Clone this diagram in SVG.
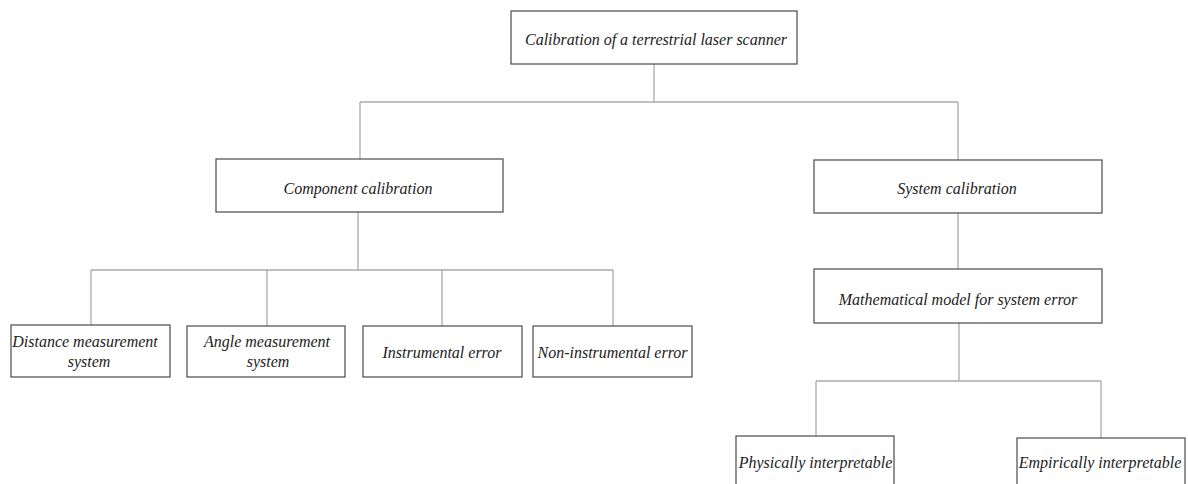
<svg xmlns="http://www.w3.org/2000/svg" width="1188" height="484" viewBox="0 0 1188 484">
<style>
.box{fill:#fff;stroke:#4a4a4a;stroke-width:1.2}
.lbl{font-family:"Liberation Serif","Times New Roman",serif;font-style:italic;font-size:16px;fill:#222;text-anchor:middle}
.con{fill:none;stroke:#ababab;stroke-width:1.3}
</style>
<rect width="1188" height="484" fill="#fff"/>
<g id="connectors">
<path class="con" d="M654 64V102M360 102H958M360 102V159M958 102V160"/>
<path class="con" d="M358 212V270M91 270H613M91 270V325M267 270V326M442 270V326M613 270V326"/>
<path class="con" d="M958 213V269M959 323V381M816 381H1101M816 381V436M1101 381V438"/>
</g>
<g id="n-root"><rect class="box" x="511" y="11" width="286" height="53"/><text class="lbl" x="656" y="45">Calibration of a terrestrial laser scanner</text></g>
<g id="n-component"><rect class="box" x="216" y="159" width="287" height="53"/><text class="lbl" x="358" y="194">Component calibration</text></g>
<g id="n-system"><rect class="box" x="814" y="160" width="288" height="53"/><text class="lbl" x="957" y="194">System calibration</text></g>
<g id="n-math"><rect class="box" x="814" y="269" width="288" height="54"/><text class="lbl" x="958" y="305">Mathematical model for system error</text></g>
<g id="n-distance"><rect class="box" x="11" y="325" width="159" height="52"/><text class="lbl" x="85" y="347">Distance measurement</text><text class="lbl" x="89" y="367">system</text></g>
<g id="n-angle"><rect class="box" x="187" y="326" width="158" height="51"/><text class="lbl" x="267" y="347">Angle measurement</text><text class="lbl" x="268" y="367">system</text></g>
<g id="n-instrumental"><rect class="box" x="363" y="326" width="159" height="51"/><text class="lbl" x="442" y="358">Instrumental error</text></g>
<g id="n-noninstrumental"><rect class="box" x="533" y="326" width="159" height="51"/><text class="lbl" x="612.5" y="358">Non-instrumental error</text></g>
<g id="n-physical"><rect class="box" x="736" y="436" width="158" height="60"/><text class="lbl" x="815.5" y="468">Physically interpretable</text></g>
<g id="n-empirical"><rect class="box" x="1017" y="438" width="168" height="60"/><text class="lbl" x="1100" y="468">Empirically interpretable</text></g>
</svg>
